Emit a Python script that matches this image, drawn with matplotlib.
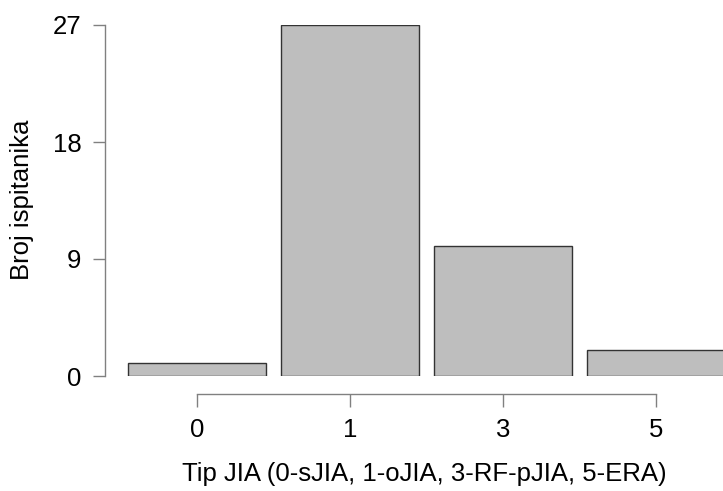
import numpy as np
import matplotlib.pyplot as plt

# Data
categories = ['0', '1', '3', '5']
counts = [1, 27, 10, 2]
y_ticks = [0, 9, 18, 27]

plt.rcParams['font.family'] = ['Liberation Sans', 'DejaVu Sans']

W, H = 723, 491
fig = plt.figure(figsize=(W / 100, H / 100), dpi=100)

# plot region in pixels (R base graphics style)
left, right, top, bottom = 105, 723, 25, 376
ax = fig.add_axes([left / W, 1 - bottom / H, (right - left) / W, (bottom - top) / H])

x = np.arange(len(categories))
ax.bar(x, counts, width=0.9, color='#bebebe', edgecolor='#333333', linewidth=1.0)

# pixel -> data mapping for x: center of first bar at 197, spacing 153
ax.set_xlim((left - 197) / 153, (right - 197) / 153)
ax.set_ylim(0, 27)

for s in ['top', 'right']:
    ax.spines[s].set_visible(False)
ax.spines['left'].set_bounds(0, 27)
ax.spines['bottom'].set_position(('outward', 13))
ax.spines['bottom'].set_bounds(0, 3)
for s in ['left', 'bottom']:
    ax.spines[s].set_color('#808080')
    ax.spines[s].set_linewidth(1.0)

ax.set_yticks(y_ticks)
ax.set_yticklabels([str(v) for v in y_ticks])
ax.set_xticks(x)
ax.set_xticklabels(categories)
ax.tick_params(axis='both', colors='#808080', labelcolor='black', labelsize=18.5,
               length=9, width=1.0, pad=8)

fig.text(424 / W, 1 - 474 / H, 'Tip JIA (0-sJIA, 1-oJIA, 3-RF-pJIA, 5-ERA)',
         ha='center', va='center', fontsize=18.5)
fig.text(22 / W, 1 - 200 / H, 'Broj ispitanika', ha='center', va='center',
         rotation='vertical', fontsize=18.5)

fig.savefig('out.png', dpi=100)
